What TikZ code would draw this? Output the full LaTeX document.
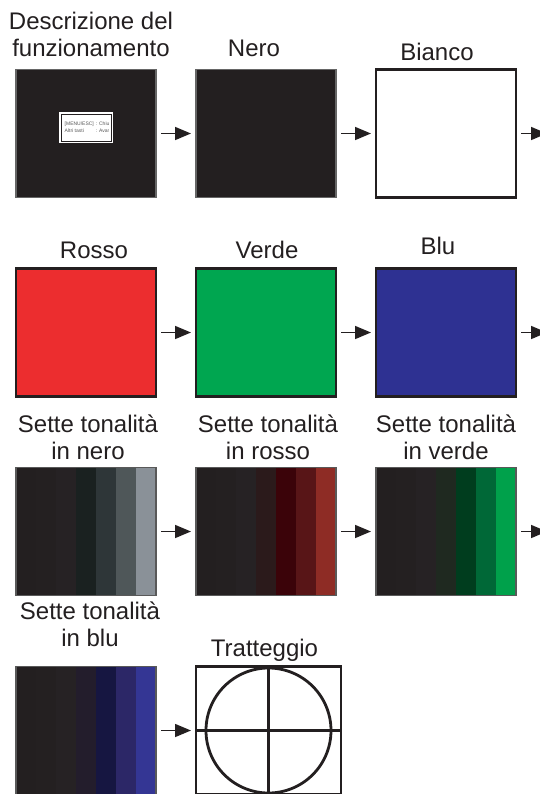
\documentclass[tikz,border=0pt]{standalone}
\usepackage{fontspec}
\setmainfont{Liberation Sans}
\usetikzlibrary{arrows.meta,positioning,calc}
\definecolor{ink}{HTML}{231F20}
\definecolor{rossopieno}{HTML}{EC2D2F}
\definecolor{verdepieno}{HTML}{00A650}
\definecolor{blupieno}{HTML}{2E3192}
% seven steps per colour, darkest first
\definecolor{nero1}{HTML}{231F20}
\definecolor{nero2}{HTML}{242021}
\definecolor{nero3}{HTML}{262224}
\definecolor{nero4}{HTML}{1A2120}
\definecolor{nero5}{HTML}{2E3638}
\definecolor{nero6}{HTML}{4F5759}
\definecolor{nero7}{HTML}{8A9198}
\colorlet{rosso1}{nero1}\colorlet{rosso2}{nero2}\colorlet{rosso3}{nero3}
\definecolor{rosso4}{HTML}{2B1A1B}
\definecolor{rosso5}{HTML}{3B0309}
\definecolor{rosso6}{HTML}{581517}
\definecolor{rosso7}{HTML}{8E2C25}
\colorlet{verde1}{nero1}\colorlet{verde2}{nero2}\colorlet{verde3}{nero3}
\definecolor{verde4}{HTML}{1F2920}
\definecolor{verde5}{HTML}{003D1E}
\definecolor{verde6}{HTML}{006837}
\definecolor{verde7}{HTML}{00A14B}
\colorlet{blu1}{nero1}\colorlet{blu2}{nero2}\colorlet{blu3}{nero3}
\definecolor{blu4}{HTML}{231D2C}
\definecolor{blu5}{HTML}{161641}
\definecolor{blu6}{HTML}{2C2767}
\definecolor{blu7}{HTML}{343694}
\tikzset{
  shades/.style={path picture={\foreach \i [evaluate=\i as \x using (\i-1)*10] in {1,...,7}
      \fill[#1\i] ([xshift=\x pt]path picture bounding box.north west) rectangle +(10pt,-70pt);}},
  menubox/.style={minimum width=25pt, minimum height=13.5pt, inner sep=0pt, fill=white, draw=white,
      line width=0.6pt, double=ink, double distance=0.45pt,
      path picture={\node[anchor=west, inner sep=0pt, text=black!65, font=\fontsize{2.5}{3.8}\selectfont]
        at ([xshift=1.2pt]path picture bounding box.west)
        {\begin{tabular}{@{}l@{\hspace{1pt}}l@{}}[MENU/ESC] & : Chiudi\\Altri tasti & : Avanti\end{tabular}};}}
}

\begin{document}
\begin{tikzpicture}[x=0.5pt, y=-0.5pt, node distance=35.5pt and 20pt,
  screen/.style={minimum width=70pt, minimum height=64pt, inner sep=0pt, outer sep=0pt},
  darkbox/.style={screen, fill=ink, draw=black!60, line width=0.6pt},
  plain/.style={screen, draw=ink, line width=1.4pt},
  graded/.style={screen, draw=black!65, line width=0.6pt, shades=#1},
  lbl/.style={font=\fontsize{12}{13.5}\selectfont, text=ink, align=center, inner sep=0pt},
  flow/.style={draw=ink, line width=0.8pt, -{Triangle[length=8pt,width=6.5pt]}, shorten <=2.5pt, shorten >=2.5pt}]
\useasboundingbox (0,0) rectangle (540,794);
\node[darkbox] (desc) at (86,133.5) {};
\node[darkbox, right=of desc] (nero) {};
\node[plain, fill=white, right=of nero] (bianco) {};
\node[plain, fill=rossopieno, below=of desc] (rosso) {};
\node[plain, fill=verdepieno, right=of rosso] (verde) {};
\node[plain, fill=blupieno, right=of verde] (blu) {};
\node[graded=nero, below=of rosso] (grnero) {};
\node[graded=rosso, right=of grnero] (grrosso) {};
\node[graded=verde, right=of grrosso] (grverde) {};
\node[graded=blu, below=of grnero] (grblu) {};
\node[plain, minimum width=72.5pt, right=of grblu] (tratt) {};
\node[menubox] (menu) at ([yshift=3pt]desc.center) {};
% hatch pattern
\draw[ink, line width=1.4pt] (tratt.center) circle[radius=31.25pt];
\draw[ink, line width=1.4pt] (tratt.north) -- (tratt.south) (tratt.west) -- (tratt.east);
% labels
\node[lbl, above=6pt of desc, xshift=2.5pt] {Descrizione del\\funzionamento};
\node[lbl, above=6pt of nero, xshift=-6pt] {Nero};
\node[lbl, above=4pt of bianco, xshift=-4.5pt] {Bianco};
\node[lbl, above=4.5pt of rosso, xshift=4pt] {Rosso};
\node[lbl, above=4.5pt of verde, xshift=0.5pt] {Verde};
\node[lbl, above=6.5pt of blu, xshift=-4pt] {Blu};
\node[lbl, above=3.5pt of grnero, xshift=1pt] {Sette tonalità\\in nero};
\node[lbl, above=3.5pt of grrosso, xshift=1pt] {Sette tonalità\\in rosso};
\node[lbl, above=3.5pt of grverde] {Sette tonalità\\in verde};
\node[lbl, above=9.5pt of grblu, xshift=2pt] {Sette tonalità\\in blu};
\node[lbl, above=2.5pt of tratt, xshift=-2pt] {Tratteggio};
% arrows
\coordinate[right=18pt of bianco] (bianco out);
\coordinate[right=18pt of blu] (blu out);
\coordinate[right=18pt of grverde] (grverde out);
\draw[flow] (desc) -- (nero);
\draw[flow] (nero) -- (bianco);
\draw[flow] (bianco) -- (bianco out);
\draw[flow] (rosso) -- (verde);
\draw[flow] (verde) -- (blu);
\draw[flow] (blu) -- (blu out);
\draw[flow] (grnero) -- (grrosso);
\draw[flow] (grrosso) -- (grverde);
\draw[flow] (grverde) -- (grverde out);
\draw[flow] (grblu) -- (tratt);
\end{tikzpicture}
\end{document}
